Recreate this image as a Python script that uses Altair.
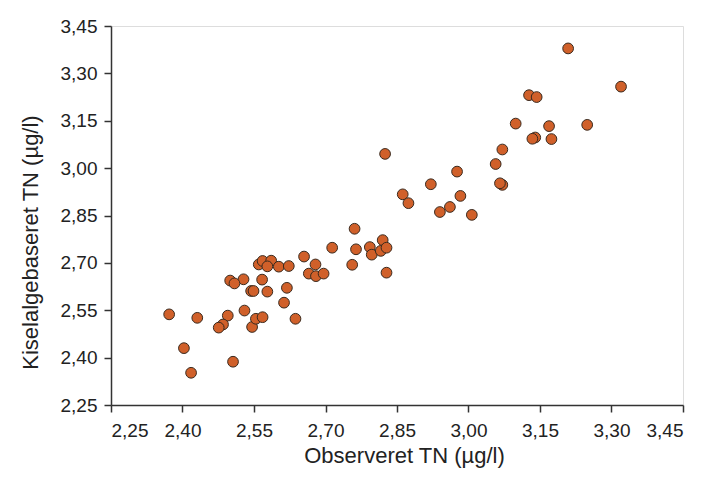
import altair as alt
import pandas as pd

observed = [3.209, 3.320, 3.127, 3.143, 3.099, 3.169, 3.249, 3.140, 3.134, 3.174,
            3.071, 3.057, 2.825, 2.976, 2.921, 3.071, 3.066, 2.862, 2.874, 2.983,
            2.961, 2.940, 3.007,
            2.372, 2.431, 2.403, 2.418, 2.506, 2.495, 2.485, 2.476, 2.530, 2.546,
            2.554, 2.568, 2.613, 2.637, 2.619, 2.578, 2.544, 2.549, 2.567, 2.528,
            2.500, 2.509, 2.560, 2.568, 2.586, 2.578, 2.602, 2.623, 2.655, 2.679,
            2.665, 2.680, 2.696, 2.714, 2.761, 2.764, 2.756, 2.793, 2.797, 2.820,
            2.816, 2.828, 2.828]
diatom = [3.379, 3.258, 3.231, 3.225, 3.141, 3.133, 3.137, 3.097, 3.093, 3.092,
          3.059, 3.013, 3.045, 2.989, 2.949, 2.947, 2.952, 2.917, 2.889, 2.912,
          2.877, 2.861, 2.852,
          2.537, 2.526, 2.430, 2.352, 2.387, 2.533, 2.505, 2.495, 2.549, 2.497,
          2.523, 2.528, 2.574, 2.523, 2.621, 2.609, 2.611, 2.611, 2.647, 2.648,
          2.644, 2.635, 2.695, 2.706, 2.707, 2.689, 2.688, 2.690, 2.720, 2.695,
          2.666, 2.658, 2.666, 2.748, 2.808, 2.743, 2.694, 2.750, 2.726, 2.772,
          2.738, 2.748, 2.669]

ticks = [2.25, 2.40, 2.55, 2.70, 2.85, 3.00, 3.15, 3.30, 3.45]

df = pd.DataFrame({"obs": observed, "dia": diatom})

label_expr = "replace(format(datum.value, '.2f'), '.', ',')"
font = "Liberation Sans"

axis_common = dict(
    values=ticks,
    labelExpr=label_expr,
    grid=False,
    domainColor="#333333",
    domainWidth=1.5,
    tickColor="#333333",
    tickWidth=1.5,
    tickSize=7,
    labelFont=font,
    labelFontSize=19,
    labelColor="#222222",
    titleFont=font,
    titleFontSize=22,
    titleFontWeight="normal",
    titleColor="#222222",
)

chart = alt.Chart(df).mark_point(
    filled=True, shape="circle", size=115, fill="#D0602A",
    stroke="#3a2a1e", strokeWidth=1, opacity=1
).encode(
    x=alt.X("obs:Q", scale=alt.Scale(domain=[2.25, 3.45], nice=False, zero=False),
            axis=alt.Axis(title="Observeret TN (µg/l)", labelPadding=9, titlePadding=5,
                          titleX=293, **axis_common)),
    y=alt.Y("dia:Q", scale=alt.Scale(domain=[2.25, 3.45], nice=False, zero=False),
            axis=alt.Axis(title="Kiselalgebaseret TN (µg/l)", labelPadding=7, titlePadding=18,
                          titleY=216, **axis_common)),
).properties(
    width=572, height=379,
    autosize=alt.AutoSizeParams(type="none"),
    padding={"left": 103, "top": 18, "right": 15, "bottom": 68},
).configure_view(
    stroke="#333333", strokeWidth=1.5
).configure(background="white")

chart.save("out.html", embed_options={"renderer": "svg", "actions": False})
